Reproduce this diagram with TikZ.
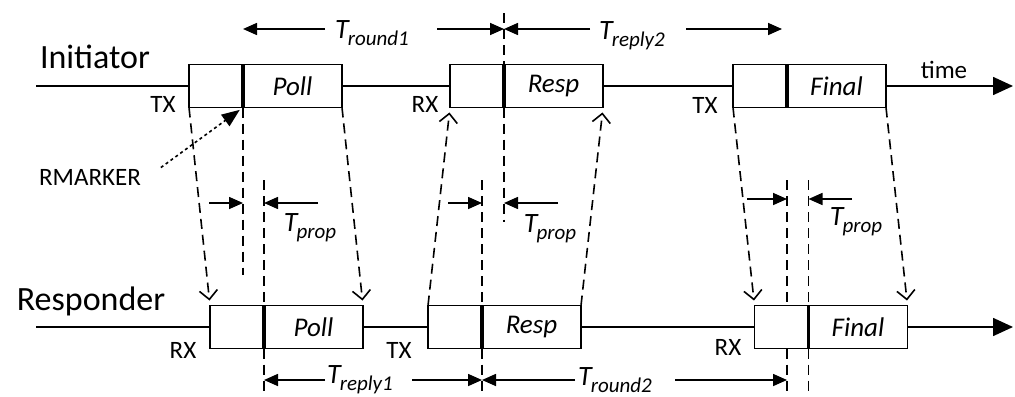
\documentclass[tikz,border=0pt]{standalone}
\usepackage{fontspec}
\setmainfont{Carlito}
\usetikzlibrary{arrows.meta,positioning}

\newcommand{\Tsub}[1]{\textit{T\kern-0.5pt\raisebox{-0.55ex}{\fontsize{10.5}{10.5}\selectfont #1}}}

\begin{document}
\begin{tikzpicture}[
    x=0.5pt, y=-0.5pt,
    pre/.style={rectangle, draw, line width=0.8pt, fill=white, minimum width=27pt, minimum height=21.5pt, inner sep=0pt, outer sep=0pt},
    pay/.style={pre, minimum width=49.5pt, font=\fontsize{13.5}{13.5}\selectfont\itshape},
    divider/.style={line width=1.8pt},
    timeax/.style={-{Triangle[length=10pt, width=9pt]}, line width=0.8pt},
    msg/.style={-{Straight Barb[length=4.5pt, width=9pt]}, dash pattern=on 5pt off 3pt, line width=0.8pt, shorten >=2.5pt},
    tick/.style={dash pattern=on 5pt off 3pt, line width=0.8pt},
    dim/.style={-{Triangle[length=7pt, width=6pt]}, line width=0.8pt},
    lbl/.style={font=\fontsize{12.5}{12.5}\selectfont},
    who/.style={font=\fontsize{17}{17}\selectfont},
    tlbl/.style={font=\fontsize{14}{14}\selectfont}
]
\useasboundingbox (0,0) rectangle (1015,396);

% time axes
\coordinate (istart) at (36,86);
\coordinate (iend) at (1013,86);
\coordinate (rstart) at (36,327);
\coordinate (rend) at (1013,327);
\draw[timeax] (istart) -- (iend);
\draw[timeax] (rstart) -- (rend);

% frames, initiator
\node[pre] (ipollA) at (216,86) {};
\node[pay, right=0pt of ipollA] (ipoll) {Poll};
\node[pre] (irespA) at (477,86) {};
\node[pay, right=0pt of irespA] (iresp) {Resp};
\node[pre] (ifinalA) at (760,86) {};
\node[pay, right=0pt of ifinalA] (ifinal) {Final};

% frames, responder
\node[pre] (rpollA) at (237,327) {};
\node[pay, right=0pt of rpollA] (rpoll) {Poll};
\node[pre] (rrespA) at (455,327) {};
\node[pay, right=0pt of rrespA] (rresp) {Resp};
\node[pre] (rfinalA) at (781.5,327) {};
\node[pay, right=0pt of rfinalA] (rfinal) {Final};

\foreach \b in {ipoll,iresp,ifinal,rpoll,rresp,rfinal}
    \draw[divider] (\b.north west) -- (\b.south west);

% labels
\node[who] (init) at (95,57) {Initiator};
\node[who] (resp) at (91,301) {Responder};
\node[lbl] (time) at (944,70) {time};
\node[lbl] (tx1) at (163,104) {TX};
\node[lbl] (rx1) at (425,104) {RX};
\node[lbl] (tx2) at (705,105) {TX};
\node[lbl] (rx2) at (183,350) {RX};
\node[lbl] (tx3) at (399,350) {TX};
\node[lbl] (rx3) at (728,347) {RX};
\node[lbl] (rmk) at (90,177) {RMARKER};

% messages
\draw[msg] (ipollA.south west) -- (rpollA.north west);
\draw[msg] (ipoll.south east) -- (rpoll.north east);
\draw[msg] (rrespA.north west) -- (irespA.south west);
\draw[msg] (rresp.north east) -- (iresp.south east);
\draw[msg] (ifinalA.south west) -- (rfinalA.north west);
\draw[msg] (ifinal.south east) -- (rfinal.north east);

\draw[-{Triangle[length=9pt, width=7pt]}, line width=0.8pt, dash pattern=on 1.5pt off 1.5pt, shorten <=8pt, shorten >=2pt]
    (rmk.east) -- (ipoll.south west);

% timestamp ticks
\coordinate (ytop) at (0,13);
\coordinate (ylow) at (0,180);
\coordinate (ymid) at (0,222);
\coordinate (ytx) at (0,275);
\coordinate (ybot) at (0,392);
\draw[tick] (ipoll.south west) -- (ipoll.south west |- ytx);
\draw[tick] (rpoll.north west |- ylow) -- (rpoll.north west);
\draw[tick] (rpoll.south west) -- (rpoll.south west |- ybot);
\draw[tick] (iresp.north west |- ytop) -- (iresp.north west);
\draw[tick] (iresp.south west) -- (iresp.south west |- ymid);
\draw[tick] (rresp.north west |- ylow) -- (rresp.north west);
\draw[tick] (rresp.south west) -- (rresp.south west |- ybot);
\draw[tick] (ifinal.south west |- ylow) -- (ifinal.south west |- rfinalA.north);
\draw[tick] (ifinal.south west |- rfinalA.south) -- (ifinal.south west |- ybot);
\draw[tick] (rfinal.north west |- ylow) -- (rfinal.north west);
\draw[tick] (rfinal.south west) -- (rfinal.south west |- ybot);

% intervals
\node[tlbl] (tround1) at (372,33) {\Tsub{round1}};
\node[tlbl] (treply2) at (632,36) {\Tsub{reply2}};
\node[tlbl] (treply1) at (360,380) {\Tsub{reply1}};
\node[tlbl] (tround2) at (615,380) {\Tsub{round2}};
\node[tlbl] (tprop1) at (310,228) {\Tsub{prop}};
\node[tlbl] (tprop2) at (550,229) {\Tsub{prop}};
\node[tlbl] (tprop3) at (856,222) {\Tsub{prop}};

\coordinate (r1a) at (325,29);
\coordinate (r1b) at (437,29);
\coordinate (p2a) at (590,29);
\coordinate (p2b) at (686,29);
\coordinate (p1a) at (325,380);
\coordinate (p1b) at (412,380);
\coordinate (r2a) at (575,380);
\coordinate (r2b) at (675,380);
\draw[dim] (r1a) -- (ipoll.north west |- r1a);
\draw[dim] (r1b) -- (iresp.north west |- r1b);
\draw[dim] (p2a) -- (iresp.north west |- p2a);
\draw[dim, shorten >=2.5pt] (p2b) -- (ifinal.north west |- p2b);
\draw[dim] (p1a) -- (rpoll.south west |- p1a);
\draw[dim] (p1b) -- (rresp.south west |- p1b);
\draw[dim] (r2a) -- (rresp.south west |- r2a);
\draw[dim] (r2b) -- (ifinal.south west |- r2b);

\coordinate (pp1a) at (209,203);
\coordinate (pp1b) at (318,203);
\coordinate (pp2a) at (448,203);
\coordinate (pp2b) at (558,203);
\coordinate (pp3a) at (747,199);
\coordinate (pp3b) at (852,199);
\draw[dim] (pp1a) -- (ipoll.south west |- pp1a);
\draw[dim] (pp1b) -- (rpoll.north west |- pp1b);
\draw[dim] (pp2a) -- (rresp.north west |- pp2a);
\draw[dim] (pp2b) -- (iresp.south west |- pp2b);
\draw[dim] (pp3a) -- (ifinal.south west |- pp3a);
\draw[dim] (pp3b) -- (rfinal.north west |- pp3b);
\end{tikzpicture}
\end{document}
